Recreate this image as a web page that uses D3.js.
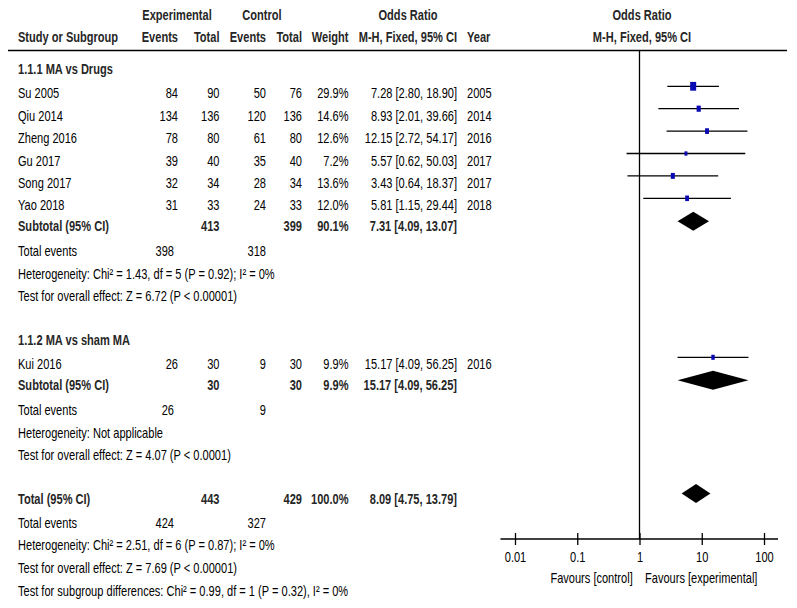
<!DOCTYPE html>
<html><head><meta charset="utf-8">
<script src="https://cdn.jsdelivr.net/npm/d3@7"></script>
<style>
body{margin:0;background:#fff}
text{font-family:"Liberation Sans",Arial,sans-serif;font-size:14px;fill:#000}
.b{font-weight:bold;fill:#262626}
</style>
</head><body>
<svg id="c" width="797" height="608"></svg>
<script>
// ---- data ----
const studies   = ["Su 2005","Qiu 2014","Zheng 2016","Gu 2017","Song 2017","Yao 2018","Kui 2016"];
const groupOf   = [0,0,0,0,0,0,1];
const expEvents = [84,134,78,39,32,31,26];
const expTotal  = [90,136,80,40,34,33,30];
const ctlEvents = [50,120,61,35,28,24,9];
const ctlTotal  = [76,136,80,40,34,33,30];
const weights   = [29.9,14.6,12.6,7.2,13.6,12.0,9.9];
const oddsRatio = [7.28,8.93,12.15,5.57,3.43,5.81,15.17];
const ciLow     = [2.80,2.01,2.72,0.62,0.64,1.15,4.09];
const ciHigh    = [18.90,39.66,54.17,50.03,18.37,29.44,56.25];
const years     = [2005,2014,2016,2017,2017,2018,2016];

const groupNames   = ["1.1.1 MA vs Drugs","1.1.2 MA vs sham MA"];
const groupExpTot  = [413,30];
const groupCtlTot  = [399,30];
const groupWeight  = ["90.1%","9.9%"];
const groupOR      = [7.31,15.17];
const groupLow     = [4.09,4.09];
const groupHigh    = [13.07,56.25];
const groupExpEv   = [398,26];
const groupCtlEv   = [318,9];
const groupHet     = ["Heterogeneity: Chi² = 1.43, df = 5 (P = 0.92); I² = 0%","Heterogeneity: Not applicable"];
const groupTest    = ["Test for overall effect: Z = 6.72 (P < 0.00001)","Test for overall effect: Z = 4.07 (P < 0.0001)"];

const totalExpTot = 443, totalCtlTot = 429, totalWeight = "100.0%";
const totalOR = 8.09, totalLow = 4.75, totalHigh = 13.79;
const totalExpEv = 424, totalCtlEv = 327;
const totalNotes = ["Heterogeneity: Chi² = 2.51, df = 6 (P = 0.87); I² = 0%",
                    "Test for overall effect: Z = 7.69 (P < 0.00001)",
                    "Test for subgroup differences: Chi² = 0.99, df = 1 (P = 0.32), I² = 0%"];
const axisTicks = [0.01,0.1,1,10,100];
const axisTickLabels = ["0.01","0.1","1","10","100"];

// ---- layout ----
const svg = d3.select("#c");
const x = d3.scaleLog().domain([0.01,100]).range([515,764]);
const boxW = d3.scaleSqrt().domain([0,30]).range([0,6]);
const boxH = d3.scaleSqrt().domain([0,30]).range([0,8.8]);
const fmt = d3.format(".2f");
const SX = 0.79; // narrow face
const col = {name:18, ee:178, et:219.5, ce:266, ct:302, w:348.5, ci:457, yr:467, te1:174, te2:266};

const rows=[]; let y=69;
function add(type,o,step){ y+=step; rows.push(Object.assign({type,y},o)); }
[0,1].forEach(g=>{
  add("group",{g}, g===0?0:44);
  let first=true;
  studies.forEach((s,i)=>{ if(groupOf[i]===g){ add("study",{i}, first?24.3:22.4); first=false; }});
  add("subtotal",{g},20.5);
  add("events",{e1:groupExpEv[g],e2:groupCtlEv[g]},25);
  add("note",{t:groupHet[g]},22.8);
  add("note",{t:groupTest[g]},22.4);
});
add("total",{},44);
add("events",{e1:totalExpEv,e2:totalCtlEv},23.7);
totalNotes.forEach(t=>add("note",{t},22.6));

function txt(xp,yp,s,anchor,cls){
  return svg.append("text").attr("transform",`translate(${xp},${yp}) scale(${SX},1)`).attr("dy","0.36em")
    .attr("text-anchor",anchor||"start").attr("class",cls||null).text(s);
}
const ciStr=(o,l,h)=>`${fmt(o)} [${fmt(l)}, ${fmt(h)}]`;

// headers
txt(177,15,"Experimental","middle","b");
txt(262,15,"Control","middle","b");
txt(408,15,"Odds Ratio","middle","b");
txt(642,15,"Odds Ratio","middle","b");
txt(col.name,37,"Study or Subgroup","start","b");
txt(col.ee,37,"Events","end","b");
txt(col.et,37,"Total","end","b");
txt(col.ce,37,"Events","end","b");
txt(col.ct,37,"Total","end","b");
txt(col.w,37,"Weight","end","b");
txt(col.ci,37,"M-H, Fixed, 95% CI","end","b");
txt(col.yr,37,"Year","start","b");
txt(642,37,"M-H, Fixed, 95% CI","middle","b");

svg.append("line").attr("x1",8).attr("x2",787).attr("y1",50.5).attr("y2",50.5)
  .attr("stroke","#000").attr("stroke-width",1.6);

const axisY = 539;
svg.append("line").attr("x1",x(1)).attr("x2",x(1)).attr("y1",50.5).attr("y2",axisY)
  .attr("stroke","#000").attr("stroke-width",1.3);

function diamond(yc,o,l,h){
  svg.append("path").attr("d",`M${x(l)},${yc} L${x(o)},${yc-9.5} L${x(h)},${yc} L${x(o)},${yc+9.5} Z`)
    .attr("fill","#000");
}

rows.forEach(r=>{
  if(r.type==="group") txt(col.name,r.y,groupNames[r.g],"start","b");
  else if(r.type==="study"){
    const i=r.i;
    txt(col.name,r.y,studies[i]);
    txt(col.ee,r.y,expEvents[i],"end");
    txt(col.et,r.y,expTotal[i],"end");
    txt(col.ce,r.y,ctlEvents[i],"end");
    txt(col.ct,r.y,ctlTotal[i],"end");
    txt(col.w,r.y,weights[i].toFixed(1)+"%","end");
    txt(col.ci,r.y,ciStr(oddsRatio[i],ciLow[i],ciHigh[i]),"end");
    txt(col.yr,r.y,years[i]);
    const my=r.y-7;
    svg.append("line").attr("x1",x(ciLow[i])).attr("x2",x(ciHigh[i])).attr("y1",my).attr("y2",my)
      .attr("stroke","#000").attr("stroke-width",1.3);
    const w=Math.max(2.5,boxW(weights[i])), h=Math.max(3.5,boxH(weights[i]));
    svg.append("rect").attr("x",x(oddsRatio[i])-w/2).attr("y",my-h/2).attr("width",w).attr("height",h)
      .attr("fill","#0a0ab4");
  }
  else if(r.type==="subtotal"){
    const g=r.g;
    txt(col.name,r.y,"Subtotal (95% CI)","start","b");
    txt(col.et,r.y,groupExpTot[g],"end","b");
    txt(col.ct,r.y,groupCtlTot[g],"end","b");
    txt(col.w,r.y,groupWeight[g],"end","b");
    txt(col.ci,r.y,ciStr(groupOR[g],groupLow[g],groupHigh[g]),"end","b");
    diamond(r.y-4.5,groupOR[g],groupLow[g],groupHigh[g]);
  }
  else if(r.type==="events"){
    txt(col.name,r.y,"Total events");
    txt(col.te1,r.y,r.e1,"end");
    txt(col.te2,r.y,r.e2,"end");
  }
  else if(r.type==="note") txt(col.name,r.y,r.t);
  else if(r.type==="total"){
    txt(col.name,r.y,"Total (95% CI)","start","b");
    txt(col.et,r.y,totalExpTot,"end","b");
    txt(col.ct,r.y,totalCtlTot,"end","b");
    txt(col.w,r.y,totalWeight,"end","b");
    txt(col.ci,r.y,ciStr(totalOR,totalLow,totalHigh),"end","b");
    diamond(r.y-5.5,totalOR,totalLow,totalHigh);
  }
});

// axis
const ax = svg.append("g").attr("transform",`translate(0,${axisY})`)
  .call(d3.axisBottom(x).tickValues(axisTicks).tickFormat((d,i)=>axisTickLabels[i]).tickSize(6).tickSizeOuter(0));
ax.select(".domain").remove();
ax.selectAll(".tick line").attr("y1",-6).attr("y2",6).attr("stroke","#000").attr("stroke-width",1.3);
ax.selectAll(".tick text").attr("y",null).attr("dy","0.36em")
  .attr("transform",`translate(0,18) scale(${SX},1)`)
  .style("font-family",'"Liberation Sans",Arial,sans-serif').style("font-size","14px").attr("fill","#000");
svg.append("line").attr("x1",x(0.01)-14.5).attr("x2",x(100)+14).attr("y1",axisY).attr("y2",axisY)
  .attr("stroke","#000").attr("stroke-width",1.3);
txt(632.7,578,"Favours [control]","end");
txt(645,578,"Favours [experimental]","start");
</script>
</body></html>
